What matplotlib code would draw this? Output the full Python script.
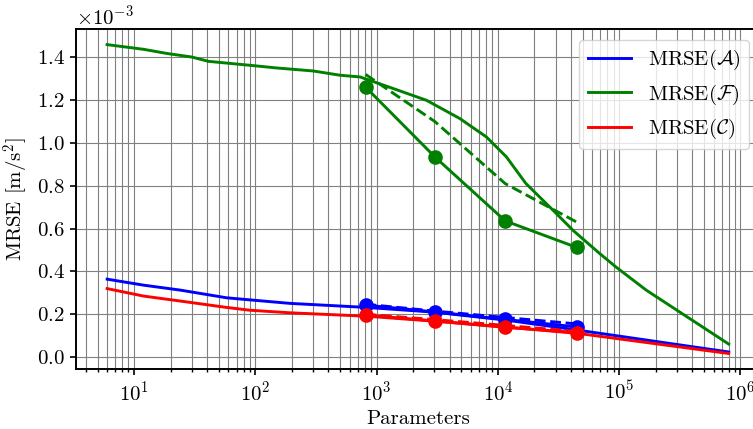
import numpy as np
import matplotlib
matplotlib.use("Agg")
import matplotlib.pyplot as plt

plt.rcParams['font.family'] = 'serif'
plt.rcParams['font.serif'] = ['cmr10']
plt.rcParams['mathtext.fontset'] = 'cm'
plt.rcParams['axes.formatter.use_mathtext'] = True
plt.rcParams['font.size'] = 15
plt.rcParams['axes.linewidth'] = 1.4

# long curves (MRSE in 1e-3 m/s^2)
x_f = [6, 12, 19, 30, 41, 60, 100, 150, 300, 500, 730, 1370, 2580, 4850, 8040, 11750, 17000, 28000, 42000, 69000, 94000, 167000, 800000]
mrse_f = [1.459, 1.437, 1.417, 1.401, 1.381, 1.372, 1.360, 1.350, 1.336, 1.316, 1.308, 1.254, 1.199, 1.114, 1.028, 0.935, 0.811, 0.690, 0.590, 0.484, 0.421, 0.313, 0.061]

x_a = [6, 12, 24, 58, 96, 193, 830, 3000, 12000, 47000, 800000]
mrse_a = [0.364, 0.336, 0.313, 0.277, 0.266, 0.251, 0.232, 0.210, 0.172, 0.125, 0.024]

x_c = [6, 12, 27, 58, 90, 193, 830, 3000, 12000, 47000, 800000]
mrse_c = [0.320, 0.285, 0.258, 0.232, 0.219, 0.207, 0.191, 0.168, 0.140, 0.110, 0.017]

# marker runs and dashed runs
x_m = [810, 3020, 11500, 44800]
mrse_f_m = [1.261, 0.935, 0.636, 0.512]
mrse_a_m = [0.243, 0.211, 0.176, 0.141]
mrse_c_m = [0.196, 0.169, 0.139, 0.115]

mrse_f_d = [1.320, 1.10, 0.81, 0.63]
mrse_a_d = [0.247, 0.215, 0.185, 0.155]
mrse_c_d = [0.200, 0.175, 0.148, 0.120]

s = 1e-3
fig = plt.figure(figsize=(7.53, 4.29), dpi=100)
ax = fig.add_axes([0.101, 0.14, 0.908, 0.792])

for xs, ys, ym, yd, col, lab in [(x_a, mrse_a, mrse_a_m, mrse_a_d, 'blue', r'MRSE($\mathcal{A}$)'),
                                  (x_f, mrse_f, mrse_f_m, mrse_f_d, 'green', r'MRSE($\mathcal{F}$)'),
                                  (x_c, mrse_c, mrse_c_m, mrse_c_d, 'red', r'MRSE($\mathcal{C}$)')]:
    ax.plot(xs, np.array(ys) * s, color=col, lw=2.1, label=lab)
    ax.plot(x_m, np.array(ym) * s, color=col, lw=2.1, marker='o', ms=9.5)
    ax.plot(x_m, np.array(yd) * s, color=col, lw=2.1, ls='--')

ax.set_xscale('log')
ax.ticklabel_format(axis='y', style='sci', scilimits=(0, 0))
ax.grid(True, which='both', color='0.5', lw=0.8)
ax.tick_params(which='major', length=4.5, width=1.2)
ax.tick_params(which='minor', length=2.5, width=1.0)
ax.set_xlabel('Parameters')
ax.set_ylabel(r'MRSE [m/s$^2$]')
ax.legend(loc='upper right', handlelength=2.1)

plt.savefig('out.png', dpi=100)
